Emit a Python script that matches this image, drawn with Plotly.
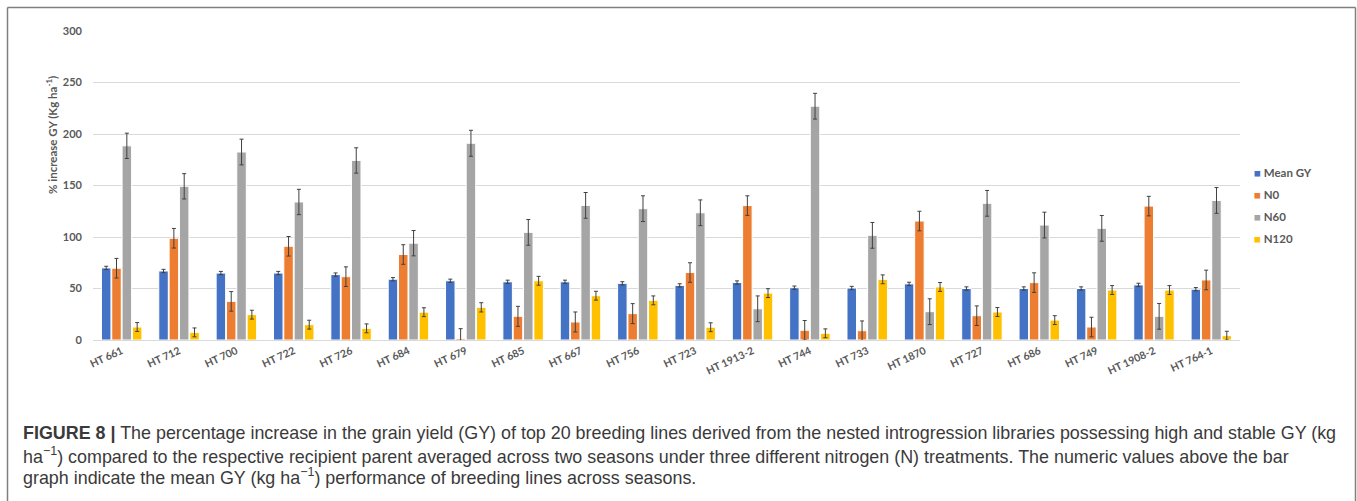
import plotly.graph_objects as go

categories = ["HT 661", "HT 712", "HT 700", "HT 722", "HT 726", "HT 684", "HT 679", "HT 685",
              "HT 667", "HT 756", "HT 723", "HT 1913-2", "HT 744", "HT 733", "HT 1870", "HT 727",
              "HT 686", "HT 749", "HT 1908-2", "HT 764-1"]

mean_gy = [70, 67, 65, 65, 63.5, 59, 57.5, 56.5, 56.5, 55, 53, 55.8, 50.8, 50.5, 54.5, 50, 50, 50, 53.5, 49.3]
n0 = [69.7, 98.8, 37.5, 91, 61.5, 83, 1.5, 23, 17.5, 25.6, 65.5, 130.5, 9.4, 9, 115.5, 23.6, 55.7, 12.6, 130, 58.3]
n60 = [188.5, 149.2, 182.5, 134, 174.3, 94, 191, 104.5, 130.7, 127.5, 123.5, 30.3, 227, 101.6, 27.5, 132.7, 111.6, 108.4, 23, 135.5]
n120 = [12.6, 7.4, 24.6, 14.9, 11.3, 27, 31.7, 57.5, 43, 38.5, 12.4, 45.5, 6.5, 58.9, 51.5, 27.2, 19.3, 48.5, 48.5, 4.2]

mean_err = [1.6, 1.6, 1.6, 1.6, 1.6, 1.6, 1.6, 1.6, 1.6, 1.6, 1.6, 1.6, 1.6, 1.6, 1.6, 1.6, 1.6, 1.6, 1.6, 1.6]
n0_err = [9.5, 9.5, 9.5, 9.5, 9.5, 9.5, 9.5, 9.7, 9.7, 9.7, 9.5, 9.5, 9.5, 9.5, 9.5, 9.5, 9.5, 9.5, 9.5, 9.5]
n60_err = [12.3, 12.3, 12.5, 12.3, 12.3, 12.3, 12.6, 12.5, 12.5, 12.5, 12.5, 12.5, 12.5, 12.5, 12.5, 12.5, 12.5, 12.5, 12.5, 12.5]
n120_err = [4.3, 4.3, 4.3, 4.3, 4.3, 4.3, 4.5, 4.3, 4.3, 4.3, 4.3, 4.3, 4.3, 4.3, 4.3, 4.3, 4.3, 4.3, 4.3, 4.3]

series_names = ["Mean GY", "N0", "N60", "N120"]
series_colors = ["#4472C4", "#ED7D31", "#A5A5A5", "#FFC000"]
y_ticks = [0, 50, 100, 150, 200, 250, 300]

caption_lines = [
    "<b>FIGURE 8 |</b> The percentage increase in the grain yield (GY) of top 20 breeding lines derived from the nested introgression libraries possessing high and stable GY (kg",
    "ha<sup>\u22121</sup>) compared to the respective recipient parent averaged across two seasons under three different nitrogen (N) treatments. The numeric values above the bar",
    "graph indicate the mean GY (kg ha<sup>\u22121</sup>) performance of breeding lines across seasons.",
]

W, H = 1357, 501
L, R, T, B = 93, 1240, 31, 340
pw, ph = R - L, B - T


def px_x(x):
    return (x - L) / pw


def px_y(y):
    return (B - y) / ph


fig = go.Figure()
values = [mean_gy, n0, n60, n120]
errs = [mean_err, n0_err, n60_err, n120_err]
for name, color, vals, er in zip(series_names, series_colors, values, errs):
    fig.add_trace(go.Bar(
        x=categories, y=vals, name=name, showlegend=False,
        marker=dict(color=color, line=dict(color="white", width=1)),
        error_y=dict(type="data", array=er, visible=True, color="#404040", thickness=1, width=2),
    ))
# legend entries (square glyph coloured in text, real symbol hidden)
for name, color in zip(series_names, series_colors):
    fig.add_trace(go.Scatter(
        x=[None], y=[None], mode="markers", legendgroup=name,
        name=f'<span style="color:{color}">\u25A0</span> {name}',
        marker=dict(symbol="square", size=1, color="rgba(0,0,0,0)"),
    ))

FONT = "Lato, Open Sans, sans-serif"
tick_font = dict(family=FONT, size=11, color="#595959", weight="bold")

fig.update_layout(
    width=W, height=H,
    margin=dict(l=L, r=W - R, t=T, b=H - B),
    paper_bgcolor="white", plot_bgcolor="white",
    barmode="group", bargap=0.28, bargroupgap=0.08,
    font=dict(family=FONT, color="#595959"),
    xaxis=dict(
        tickangle=-25, tickfont=dict(family=FONT, size=10.5, color="#595959", weight="bold"),
        showgrid=False, showline=True, linecolor="#d9d9d9", linewidth=1,
        ticks="", automargin=False,
    ),
    yaxis=dict(
        range=[0, 300], tickvals=y_ticks, ticktext=[str(v) for v in y_ticks],
        tickfont=tick_font,
        showgrid=True, gridcolor="#d9d9d9", gridwidth=1, zeroline=False,
        ticks="", ticklabelstandoff=10, automargin=False, showline=False,
    ),
    legend=dict(
        x=px_x(1214), y=px_y(157.5), xanchor="left", yanchor="top",
        font=dict(family=FONT, size=11.5, color="#595959", weight="bold"),
        itemwidth=30, tracegroupgap=3, bgcolor="rgba(0,0,0,0)",
    ),
    showlegend=True,
)

annotations = [
    dict(
        text="% increase GY (Kg ha<sup>-1</sup>)", textangle=-90,
        x=px_x(51), y=px_y(135), xref="paper", yref="paper",
        xanchor="center", yanchor="middle", showarrow=False,
        font=dict(family=FONT, size=11.5, color="#595959", weight="bold"),
    )
]
caption_y = [433, 455, 476]
for line, yy in zip(caption_lines, caption_y):
    annotations.append(dict(
        text=line, x=px_x(21), y=px_y(yy), xref="paper", yref="paper",
        xanchor="left", yanchor="middle", showarrow=False, align="left",
        font=dict(family="Liberation Sans, Arial, sans-serif", size=17.9, color="#3a3a3a"),
    ))
fig.update_layout(annotations=annotations)

border = dict(color="#7f7f7f", width=1.5)
fig.add_shape(type="line", xref="paper", yref="paper",
              x0=px_x(7.5), x1=px_x(7.5), y0=px_y(7.5), y1=px_y(510), line=border)
fig.add_shape(type="line", xref="paper", yref="paper",
              x0=px_x(1355.5), x1=px_x(1355.5), y0=px_y(7.5), y1=px_y(510), line=border)
fig.add_shape(type="line", xref="paper", yref="paper",
              x0=px_x(7.5), x1=px_x(1355.5), y0=px_y(7.5), y1=px_y(7.5), line=border)

fig.write_html(
    "out.html",
    config={"displayModeBar": False},
    post_script="document.body.style.margin='0px';document.body.style.overflow='hidden';",
)
